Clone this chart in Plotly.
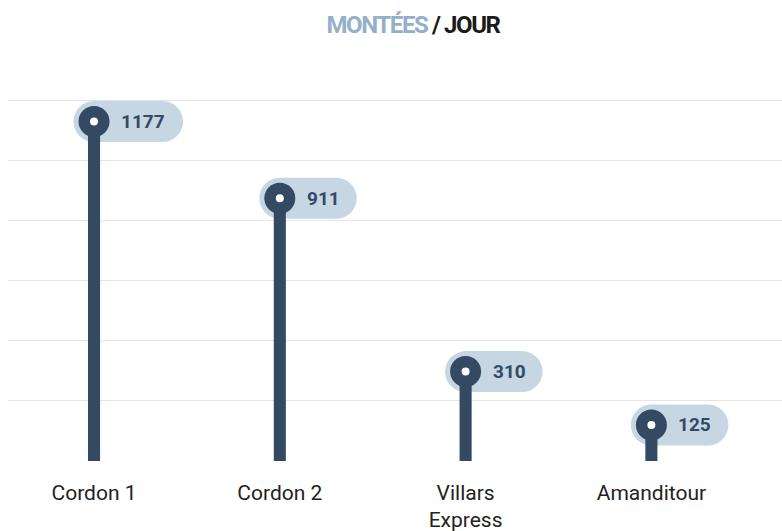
import plotly.graph_objects as go

categories = ["Cordon 1", "Cordon 2", "Villars<br>Express", "Amanditour"]
values = [1177, 911, 310, 125]
value_labels = [str(v) for v in values]
grid_vals = [0, 1250 / 6, 2 * 1250 / 6, 3 * 1250 / 6, 4 * 1250 / 6, 5 * 1250 / 6, 1250]

DARK = "#344a63"
PILL = "#c6d7e3"

fig = go.Figure()

# stems
fig.add_trace(go.Bar(
    x=categories, y=values, width=0.065,
    marker=dict(color=DARK, line=dict(width=0)),
    hoverinfo="skip", showlegend=False,
))
# heads
fig.add_trace(go.Scatter(
    x=categories, y=values, mode="markers",
    marker=dict(size=31, color=DARK, line=dict(width=0)),
    cliponaxis=False, hoverinfo="skip", showlegend=False,
))
fig.add_trace(go.Scatter(
    x=categories, y=values, mode="markers",
    marker=dict(size=8, color="white", line=dict(width=0)),
    cliponaxis=False, hoverinfo="skip", showlegend=False,
))

# pills behind the labels
shapes = []
R = 20.5
for i, (v, lab) in enumerate(zip(values, value_labels)):
    right = 41 + 12 * len(lab)
    common = dict(xref="x", yref="y", xsizemode="pixel", ysizemode="pixel",
                  xanchor=i, yanchor=v, fillcolor=PILL, line=dict(width=0),
                  layer="between")
    shapes.append(dict(type="circle", x0=-R, x1=R, y0=-R, y1=R, **common))
    shapes.append(dict(type="rect", x0=0, x1=right - R, y0=-R, y1=R, **common))
    shapes.append(dict(type="circle", x0=right - 2 * R, x1=right, y0=-R, y1=R, **common))

annotations = []
for i, (v, lab) in enumerate(zip(values, value_labels)):
    annotations.append(dict(
        x=i, y=v, xref="x", yref="y", text="<b>" + lab + "</b>",
        showarrow=False, xanchor="left", yanchor="middle", xshift=25,
        font=dict(family="Roboto, sans-serif", size=19, color=DARK),
    ))

fig.update_layout(
    width=782, height=531,
    margin=dict(l=8, r=0, t=86, b=70),
    paper_bgcolor="white", plot_bgcolor="white",
    shapes=shapes, annotations=annotations,
    title=dict(
        text="<span style='letter-spacing:-1.4px'><span style='color:#94b0c8'>MONTÉES</span> / JOUR</span>",
        xref="container", yref="container", x=413 / 782, y=1 - 25 / 531,
        xanchor="center", yanchor="middle",
        font=dict(family="Roboto, sans-serif", size=24, color="#1a1a1a", weight="bold"),
    ),
    xaxis=dict(
        type="category", range=[-0.463, 3.703], showgrid=False, zeroline=False,
        showline=False, ticks="", fixedrange=True, automargin=False,
        ticklabelstandoff=17,
        tickfont=dict(family="Roboto, sans-serif", size=21, color="#222222"),
    ),
    yaxis=dict(
        range=[0, 1300], tickvals=grid_vals, showticklabels=False,
        showgrid=True, gridcolor="#e2e6ea", gridwidth=1, automargin=False,
        zeroline=False, showline=False, ticks="", fixedrange=True,
    ),
)

fig.write_html("out.html", config={"displayModeBar": False},
               post_script="document.body.style.margin='0';")
